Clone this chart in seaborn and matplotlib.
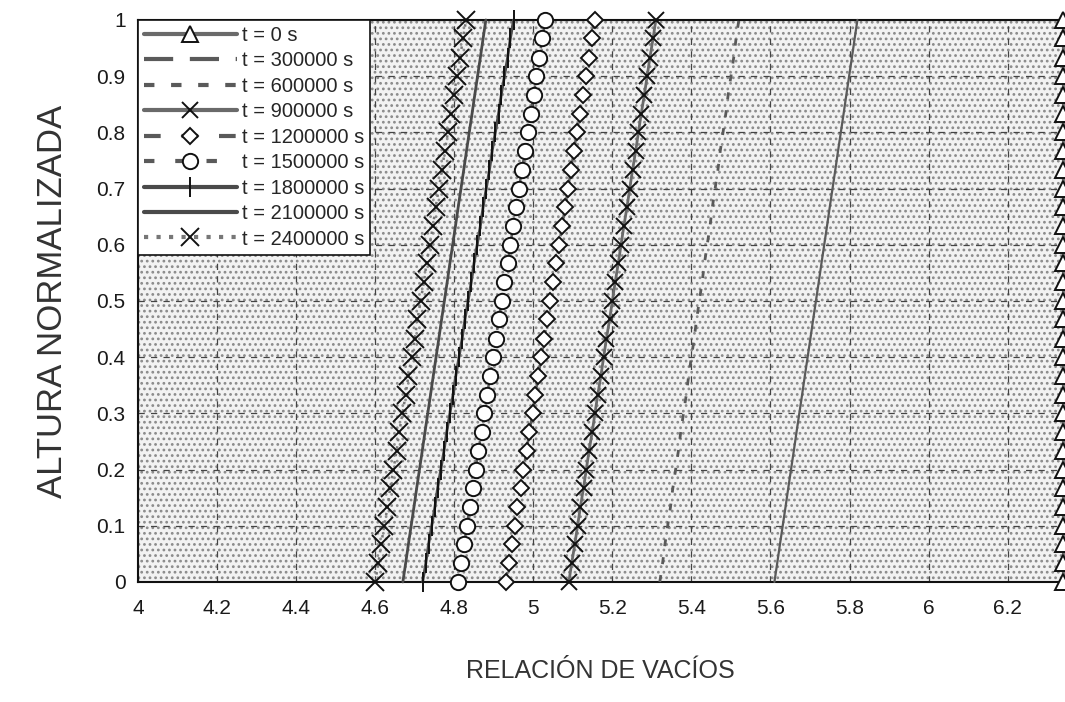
import matplotlib
matplotlib.use("Agg")
import matplotlib.pyplot as plt
import seaborn as sns
import pandas as pd
from matplotlib.patches import Rectangle
from matplotlib.ticker import FuncFormatter

# Normalised height (0 = base, 1 = top of the layer)
altura = [0.000, 0.033, 0.067, 0.100, 0.133, 0.167, 0.200, 0.233, 0.267, 0.300,
          0.333, 0.367, 0.400, 0.433, 0.467, 0.500, 0.533, 0.567, 0.600, 0.633,
          0.667, 0.700, 0.733, 0.767, 0.800, 0.833, 0.867, 0.900, 0.933, 0.967,
          1.000]

# Void ratio profiles at each time
e_0 = [6.34] * 31
e_300000 = [5.610, 5.617, 5.624, 5.631, 5.638, 5.645, 5.652, 5.659, 5.666, 5.673,
            5.680, 5.687, 5.694, 5.701, 5.708, 5.715, 5.722, 5.729, 5.736, 5.743,
            5.750, 5.757, 5.764, 5.771, 5.778, 5.785, 5.792, 5.799, 5.806, 5.813,
            5.820]
e_600000 = [5.320, 5.327, 5.333, 5.340, 5.347, 5.353, 5.360, 5.367, 5.373, 5.380,
            5.387, 5.393, 5.400, 5.407, 5.413, 5.420, 5.427, 5.433, 5.440, 5.447,
            5.453, 5.460, 5.467, 5.473, 5.480, 5.487, 5.493, 5.500, 5.507, 5.513,
            5.520]
e_900000 = [5.090, 5.097, 5.105, 5.112, 5.119, 5.127, 5.134, 5.141, 5.149, 5.156,
            5.163, 5.171, 5.178, 5.185, 5.193, 5.200, 5.207, 5.215, 5.222, 5.229,
            5.237, 5.244, 5.251, 5.259, 5.266, 5.273, 5.281, 5.288, 5.295, 5.303,
            5.310]
e_1200000 = [4.930, 4.938, 4.945, 4.953, 4.960, 4.968, 4.975, 4.983, 4.990, 4.998,
             5.005, 5.013, 5.020, 5.028, 5.035, 5.043, 5.050, 5.058, 5.065, 5.073,
             5.080, 5.088, 5.095, 5.103, 5.110, 5.118, 5.125, 5.133, 5.140, 5.148,
             5.155]
e_1500000 = [4.810, 4.817, 4.825, 4.832, 4.839, 4.847, 4.854, 4.861, 4.869, 4.876,
             4.883, 4.891, 4.898, 4.905, 4.913, 4.920, 4.927, 4.935, 4.942, 4.949,
             4.957, 4.964, 4.971, 4.979, 4.986, 4.993, 5.001, 5.008, 5.015, 5.023,
             5.030]
e_1800000 = [4.720, 4.728, 4.735, 4.743, 4.751, 4.758, 4.766, 4.774, 4.781, 4.789,
             4.797, 4.804, 4.812, 4.820, 4.827, 4.835, 4.843, 4.850, 4.858, 4.866,
             4.873, 4.881, 4.889, 4.896, 4.904, 4.912, 4.919, 4.927, 4.935, 4.942,
             4.950]
e_2100000 = [4.670, 4.677, 4.684, 4.691, 4.698, 4.705, 4.712, 4.719, 4.726, 4.733,
             4.740, 4.747, 4.754, 4.761, 4.768, 4.775, 4.782, 4.789, 4.796, 4.803,
             4.810, 4.817, 4.824, 4.831, 4.838, 4.845, 4.852, 4.859, 4.866, 4.873,
             4.880]
e_2400000 = [4.600, 4.608, 4.615, 4.623, 4.631, 4.638, 4.646, 4.654, 4.661, 4.669,
             4.677, 4.684, 4.692, 4.700, 4.707, 4.715, 4.723, 4.730, 4.738, 4.746,
             4.753, 4.761, 4.769, 4.776, 4.784, 4.792, 4.799, 4.807, 4.815, 4.822,
             4.830]

tiempos = ["t = 0 s", "t = 300000 s", "t = 600000 s", "t = 900000 s",
           "t = 1200000 s", "t = 1500000 s", "t = 1800000 s", "t = 2100000 s",
           "t = 2400000 s"]
perfiles = [e_0, e_300000, e_600000, e_900000, e_1200000, e_1500000,
            e_1800000, e_2100000, e_2400000]

x_ticks = [4, 4.2, 4.4, 4.6, 4.8, 5, 5.2, 5.4, 5.6, 5.8, 6, 6.2]
y_ticks = [0, 0.1, 0.2, 0.3, 0.4, 0.5, 0.6, 0.7, 0.8, 0.9, 1]

# Line / marker style per curve: (style on the plot, style in the legend key)
estilos = [
    dict(color="#6a6a6a", lw=2.0, ls="-", leg_ls="-", marker="^", ms=11, mfc="white"),
    dict(color="#5a5a5a", lw=1.6, ls="-", leg_ls=(0, (7, 4)), marker=None, ms=0, mfc="none"),
    dict(color="#5a5a5a", lw=2.0, ls=(0, (2.5, 4)), leg_ls=(0, (2.5, 4)), marker=None, ms=0, mfc="none"),
    dict(color="#6a6a6a", lw=2.0, ls="-", leg_ls="-", marker="x", ms=12, mfc="none"),
    dict(color="#5a5a5a", lw=1.8, ls=(0, (4, 3)), leg_ls=(0, (4, 5)), marker="D", ms=8, mfc="white"),
    dict(color="#5a5a5a", lw=1.8, ls=(0, (3, 3)), leg_ls=(0, (2.5, 5)), marker="o", ms=11, mfc="white"),
    dict(color="#4a4a4a", lw=2.0, ls="-", leg_ls="-", marker="|", ms=14, mfc="none"),
    dict(color="#4a4a4a", lw=2.0, ls="-", leg_ls="-", marker=None, ms=0, mfc="none"),
    dict(color="#777777", lw=1.8, ls=(0, (1, 2)), leg_ls=(0, (1, 2)), marker="x", ms=13, mfc="none"),
]

sns.set_theme(style="white")
plt.rcParams["font.family"] = ["Liberation Sans", "DejaVu Sans"]
plt.rcParams["hatch.linewidth"] = 1.2

fig = plt.figure(figsize=(10.65, 7.02), dpi=100)
ax = fig.add_axes([0.1296, 0.171, 0.8685, 0.8006])

# stippled grey plot area
ax.add_patch(Rectangle((0, 0), 1, 1, transform=ax.transAxes, facecolor="#f2f2f2",
                       edgecolor="#8a8a8a", hatch="...", lw=0, zorder=0))

for etiqueta, perfil, st in zip(tiempos, perfiles, estilos):
    df = pd.DataFrame({"e": perfil, "h": altura})
    sns.lineplot(data=df, x="e", y="h", ax=ax, estimator=None, sort=False,
                 label=etiqueta, color=st["color"], linewidth=st["lw"],
                 linestyle=st["ls"], marker=st["marker"], markersize=st["ms"],
                 markerfacecolor=st["mfc"], markeredgecolor="#111111",
                 markeredgewidth=1.4, clip_on=False, zorder=3)

ax.set_xlim(4, 6.34)
ax.set_ylim(0, 1)
ax.set_xticks(x_ticks)
ax.set_yticks(y_ticks)
fmt = FuncFormatter(lambda v, p: f"{v:g}")
ax.xaxis.set_major_formatter(fmt)
ax.yaxis.set_major_formatter(fmt)
ax.tick_params(axis="both", length=0, labelsize=15, colors="#1a1a1a")
ax.tick_params(axis="x", pad=12)
ax.tick_params(axis="y", pad=9)

ax.grid(True, color="#444444", linestyle=(0, (5, 5)), linewidth=0.9, zorder=1)
ax.set_axisbelow(True)
for s in ax.spines.values():
    s.set_color("#111111")
    s.set_linewidth(1.5)

ax.set_xlabel("RELACIÓN DE VACÍOS", fontsize=18, color="#333333", labelpad=30)
ax.set_ylabel("ALTURA NORMALIZADA", fontsize=25, color="#333333", labelpad=20)

leg = ax.legend(loc="upper left", borderaxespad=0.0, fontsize=14.5, frameon=True,
                fancybox=False, framealpha=1.0, edgecolor="#111111",
                handlelength=4.6, handletextpad=0.25, labelspacing=0.32,
                borderpad=0.3)
leg.get_frame().set_linewidth(1.2)
leg.set_zorder(5)
for linea, st in zip(leg.get_lines(), estilos):
    linea.set_linestyle(st["leg_ls"])
    linea.set_linewidth(3.0)

fig.savefig("out.png", dpi=100)
